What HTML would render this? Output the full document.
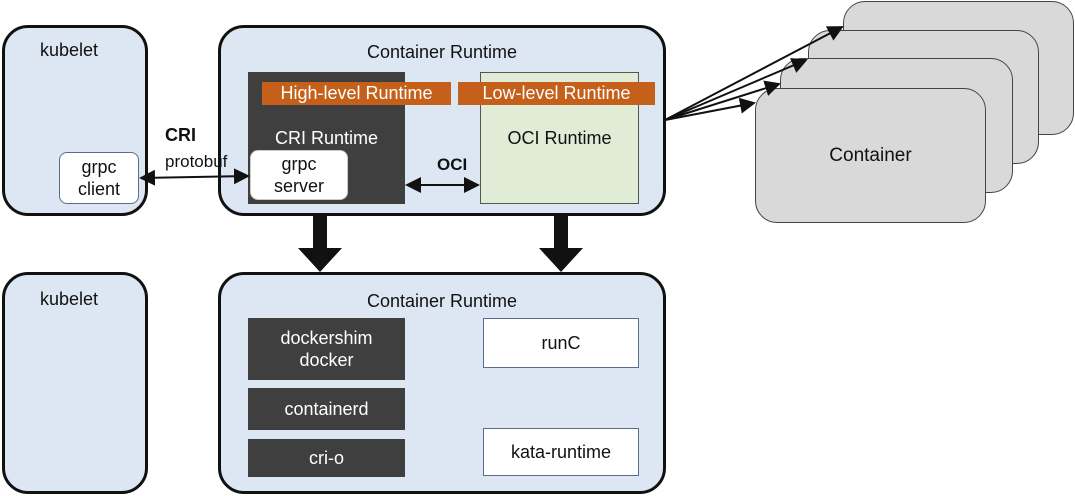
<!DOCTYPE html>
<html><head><style>
body{margin:0;width:1075px;height:496px;background:#fff;position:relative;overflow:hidden;font-family:"Liberation Sans",sans-serif;color:#111}
.a{position:absolute;box-sizing:border-box}
.big{border:3px solid #111;border-radius:26px;background:#dde7f4}
.t{position:absolute;left:0;right:0;text-align:center;font-size:18px}
.dk{background:#3f3f3f;color:#fff;text-align:center;font-size:18px;display:flex;align-items:center;justify-content:center;line-height:22px}
.wh{background:#fff;border:1px solid #5a6e8a;text-align:center;font-size:18px;display:flex;align-items:center;justify-content:center;line-height:22px}
.or{background:#c4601a;color:#fff;font-size:18px;line-height:23px;text-align:center}
.card{border:1.5px solid #444;border-radius:22px;background:#d9d9d9}
</style></head><body>
<div class="a card" style="left:843px;top:1px;width:231px;height:134px"></div>
<div class="a card" style="left:808px;top:30px;width:231px;height:134px"></div>
<div class="a card" style="left:780px;top:58px;width:233px;height:135px"></div>
<div class="a card" style="left:755px;top:88px;width:231px;height:135px"><div class="t" style="top:56px;font-size:19px">Container</div></div>

<div class="a big" style="left:2px;top:25px;width:146px;height:191px"><div class="t" style="top:12px;left:-12px">kubelet</div></div>
<div class="a wh" style="left:59px;top:152px;width:80px;height:52px;border-radius:8px">grpc<br>client</div>
<div class="a big" style="left:218px;top:25px;width:448px;height:191px"><div class="t" style="top:14px">Container Runtime</div></div>
<div class="a dk" style="left:248px;top:72px;width:157px;height:132px;align-items:flex-start;padding-top:55px">CRI Runtime</div>
<div class="a" style="left:480px;top:72px;width:159px;height:132px;background:#e0ecd6;border:1px solid #555;text-align:center;font-size:18px;padding-top:55px">OCI Runtime</div>
<div class="a or" style="left:262px;top:82px;width:189px;height:23px">High-level Runtime</div>
<div class="a or" style="left:458px;top:82px;width:197px;height:23px">Low-level Runtime</div>
<div class="a wh" style="left:250px;top:150px;width:98px;height:50px;border-radius:8px;border-color:#ccc">grpc<br>server</div>
<div class="a" style="left:165px;top:125px;font-size:18px;font-weight:bold">CRI</div>
<div class="a" style="left:165px;top:152px;font-size:17px">protobuf</div>
<div class="a" style="left:437px;top:155px;font-size:17px;font-weight:bold">OCI</div>

<div class="a big" style="left:2px;top:272px;width:146px;height:222px"><div class="t" style="top:14px;left:-12px">kubelet</div></div>
<div class="a big" style="left:218px;top:272px;width:448px;height:222px"><div class="t" style="top:16px">Container Runtime</div></div>
<div class="a dk" style="left:248px;top:318px;width:157px;height:62px">dockershim<br>docker</div>
<div class="a dk" style="left:248px;top:388px;width:157px;height:42px">containerd</div>
<div class="a dk" style="left:248px;top:439px;width:157px;height:38px">cri-o</div>
<div class="a wh" style="left:483px;top:318px;width:156px;height:50px">runC</div>
<div class="a wh" style="left:483px;top:428px;width:156px;height:48px">kata-runtime</div>

<svg class="a" style="left:0;top:0" width="1075" height="496">
<defs><marker id="m" markerWidth="8" markerHeight="8" refX="7" refY="4" orient="auto-start-reverse"><path d="M0,0L8,4L0,8z" fill="#111"/></marker></defs>
<line x1="141" y1="178" x2="248" y2="176" stroke="#111" stroke-width="2" marker-start="url(#m)" marker-end="url(#m)"/>
<line x1="407" y1="185" x2="478" y2="185" stroke="#111" stroke-width="2" marker-start="url(#m)" marker-end="url(#m)"/>
<g stroke="#111" stroke-width="2" marker-end="url(#m)">
<line x1="665" y1="120" x2="842" y2="27"/>
<line x1="665" y1="120" x2="806" y2="60"/>
<line x1="665" y1="120" x2="779" y2="84"/>
<line x1="665" y1="120" x2="754" y2="103"/>
</g>
<path d="M313,216h14v32h15l-22,24l-22,-24h15z" fill="#111"/>
<path d="M554,216h14v32h15l-22,24l-22,-24h15z" fill="#111"/>
</svg>
</body></html>
